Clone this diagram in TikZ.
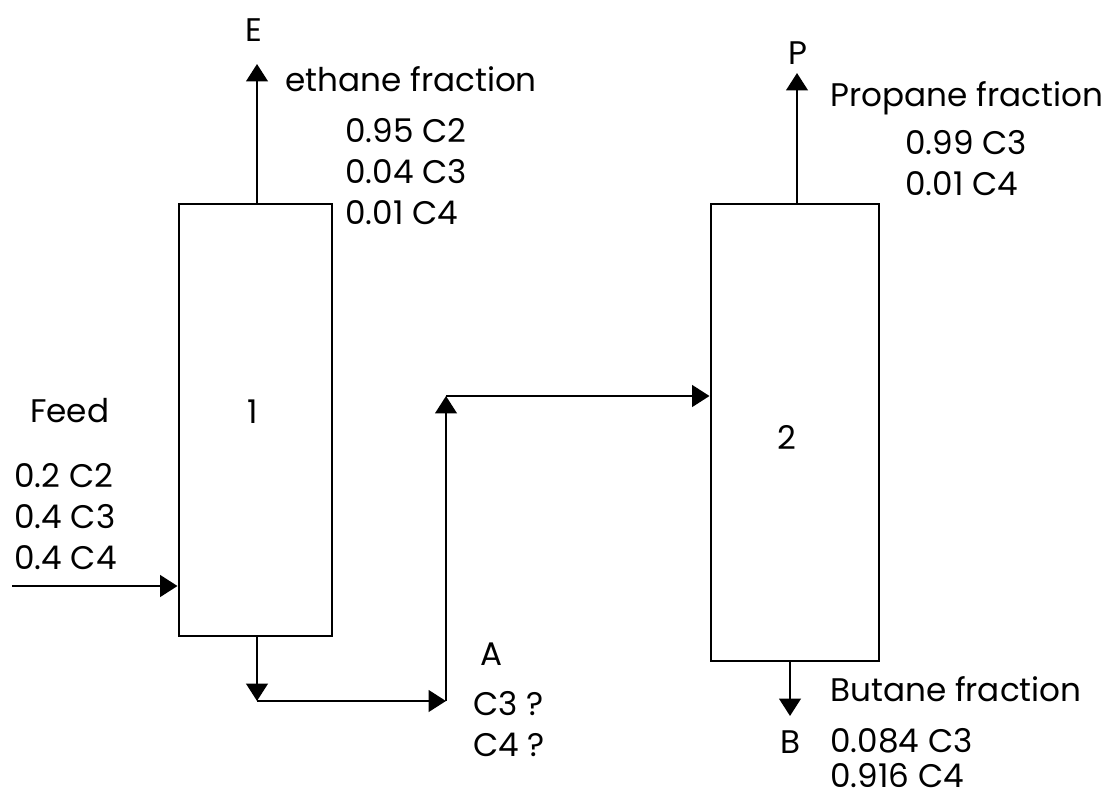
\documentclass[tikz,border=0pt]{standalone}
\usepackage{fontspec}
\setmainfont{Poppins}
\usetikzlibrary{arrows.meta}
\begin{document}
\begin{tikzpicture}[x=0.75pt,y=-0.75pt,
  every node/.style={font=\fontsize{24.5}{30}\selectfont},
  lbl/.style={inner sep=0pt, text height=17pt, text depth=0pt, anchor=west},
  clbl/.style={inner sep=0pt, text height=17pt, text depth=0pt},
  column/.style={draw, line width=2.2pt, inner sep=0pt},
  arr/.style={line width=2.2pt, -{Triangle[length=13pt,width=16pt]}}]
\useasboundingbox (0,0) rectangle (1109,796);
% columns
\node[column, minimum width=114.75pt, minimum height=324pt] (col1) at (255.5,420) {};
\node[column, minimum width=126pt, minimum height=342.75pt] (col2) at (795,432.5) {};
\node[clbl] (n1) at (253,412) {1};
\node[clbl] (n2) at (787,438) {2};
% coordinates
\coordinate (Etip) at (257,64);
\coordinate (feedin) at (12,586);
\coordinate (b1) at (257,701);
\coordinate (b2) at (446,701);
\coordinate (b3) at (446,396);
\coordinate (Ptip) at (797,73);
\coordinate (Btip) at (790,716);
% connectors
\draw[arr] (Etip |- col1.north) -- (Etip);
\draw[arr] (feedin) -- (feedin -| col1.west);
\draw[arr] (b1 |- col1.south) -- (b1);
\draw[arr] (b1) -- (b2);
\draw[arr] (b2) -- (b3);
\draw[arr] (b3) -- (b3 -| col2.west);
\draw[arr] (Ptip |- col2.north) -- (Ptip);
\draw[arr] (Btip |- col2.south) -- (Btip);
% labels
\node[clbl] (E) at (254,30) {E};
\node[lbl] (eth) at (285,80) {ethane fraction};
\node[lbl] (e1) at (345,131) {0.95 C2};
\node[lbl] (e2) at (345,172) {0.04 C3};
\node[lbl] (e3) at (345,213) {0.01 C4};
\node[lbl] (feed) at (30,411) {Feed};
\node[lbl] (f1) at (14,476) {0.2 C2};
\node[lbl] (f2) at (14,517) {0.4 C3};
\node[lbl] (f3) at (14,558) {0.4 C4};
\node[clbl] (A) at (492,654) {A};
\node[lbl] (a1) at (473,704) {C3 ?};
\node[lbl] (a2) at (473,745) {C4 ?};
\node[clbl] (P) at (798,53) {P};
\node[lbl] (prop) at (830,95) {Propane fraction};
\node[lbl] (p1) at (905,143) {0.99 C3};
\node[lbl] (p2) at (905,184) {0.01 C4};
\node[lbl] (but) at (830,690) {Butane fraction};
\node[clbl] (B) at (790,742) {B};
\node[lbl] (b1l) at (830,741) {0.084 C3};
\node[lbl] (b2l) at (830,776) {0.916 C4};
\end{tikzpicture}
\end{document}
